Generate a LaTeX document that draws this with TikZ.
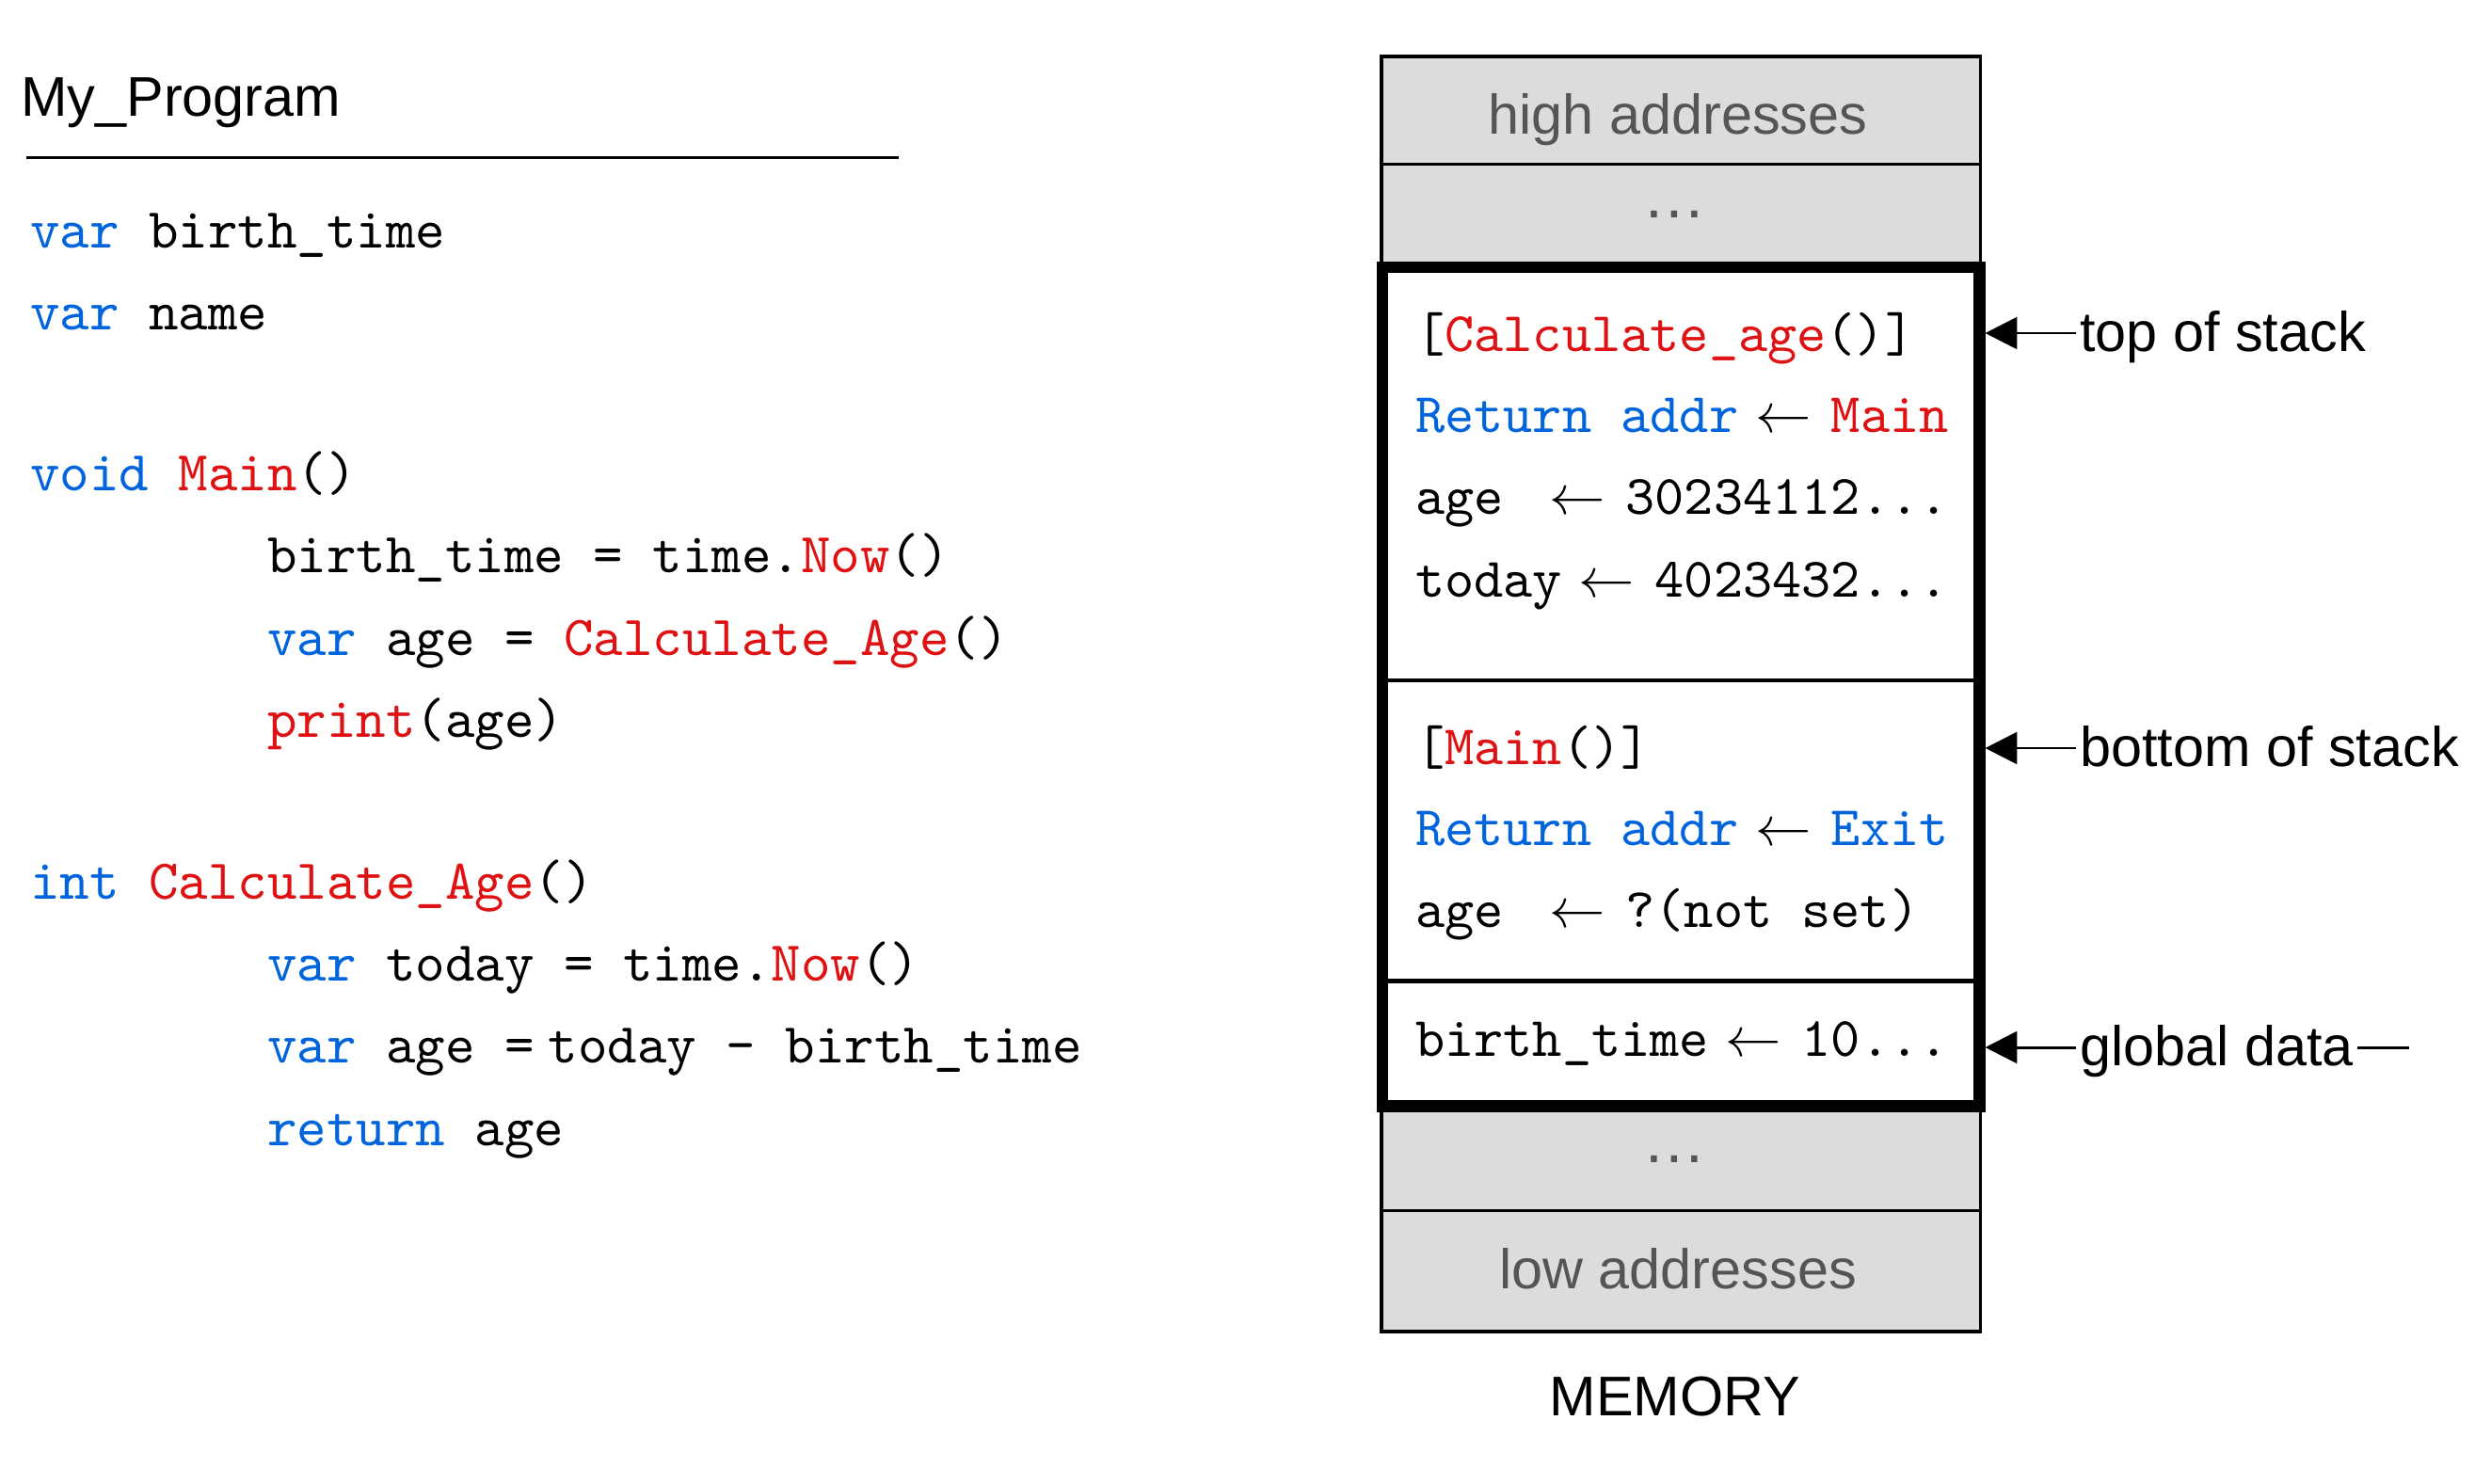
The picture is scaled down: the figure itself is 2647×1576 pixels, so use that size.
\documentclass[tikz,border=0pt]{standalone}
\usepackage{fontspec}
\newfontfamily\labelfont{Liberation Sans}
\usepackage{xcolor}
\definecolor{kwblue}{RGB}{0,100,220}
\definecolor{fnred}{RGB}{222,18,18}
\definecolor{gr}{RGB}{220,220,220}
\definecolor{grtext}{RGB}{85,85,85}
\newcommand{\kwd}[1]{\textcolor{kwblue}{#1}}
\newcommand{\fnc}[1]{\textcolor{fnred}{#1}}
\newcommand{\assign}{\hspace{0.3em}$\leftarrow$\hspace{0.36em}}
\usetikzlibrary{arrows.meta}
\tikzset{
  code/.style={anchor=base west, inner sep=0pt, font=\ttfamily},
  sans/.style={inner sep=0pt, font=\labelfont},
  lbl/.style={anchor=west, inner sep=0.5pt, font=\labelfont, text height=6.7pt, text depth=0pt},
  ptr/.style={-{Triangle[length=5.7pt,width=5.7pt]}, line width=0.5pt, shorten >=1pt}
}

\begin{document}
\begin{tikzpicture}[x=0.16835pt, y=-0.16835pt]
\useasboundingbox (0,0) rectangle (2647,1576);
% program text
\node[sans, anchor=base west] (title) at (21,123) {My\_Program};
\draw[line width=0.6pt] (28,167.5) -- (955,167.5);
\foreach \x/\y/\code [count=\i] in {
  31/263/{\kwd{var} birth\_time},
  31/350/{\kwd{var} name},
  31/521/{\kwd{void} \fnc{Main}()},
  283/608/{birth\_time = time.\fnc{Now}()},
  283/696/{\kwd{var} age = \fnc{Calculate\_Age}()},
  283/783/{\fnc{print}(age)},
  31/955/{\kwd{int} \fnc{Calculate\_Age}()},
  283/1042/{\kwd{var} today = time.\fnc{Now}()},
  283/1129/{\kwd{var} age =\hspace{0.25em}today - birth\_time},
  283/1217/{\kwd{return} age}}{
\node[code, font=\ttfamily\fontsize{10.1}{12}\selectfont] (line\i) at (\x,\y) {\code};
}
% memory column
\fill[gr] (1468,60) rectangle (2104.5,1415);
\draw[line width=0.6pt] (1468,60) rectangle (2104.5,1415);
\foreach \y in {174.5,1286.5} \draw[line width=0.6pt] (1468,\y) -- (2104.5,\y);
\fill[white] (1469,284) rectangle (2103.6,1175.7);
\foreach \y in {723,1042.5} \draw[line width=0.7pt] (1469,\y) -- (2103.6,\y);
\draw[line width=2.1pt] (1469,284) rectangle (2103.6,1175.7);
\coordinate (stackedge) at (2103.6,284);
\node[sans, anchor=base, text=grtext] (high) at (1783,142.7) {high addresses};
\node[inner sep=0pt, text=grtext, font=\labelfont\fontsize{11.4}{12}\selectfont] (hdots) at (1779,228) {\textellipsis};
\node[inner sep=0pt, text=grtext, font=\labelfont\fontsize{11.4}{12}\selectfont] (ldots) at (1779,1231.4) {\textellipsis};
\node[sans, anchor=base, text=grtext] (low) at (1783,1369.5) {low addresses};
\node[sans, anchor=base] (memlabel) at (1780,1504) {MEMORY};
\foreach \y/\txt [count=\i] in {
  373/{[\fnc{Calculate\_age}()]},
  459/{\kwd{Return addr}\assign\fnc{Main}},
  546/{age~\assign 30234112...},
  634/{today\assign 4023432...},
  812/{[\fnc{Main}()]},
  898/{\kwd{Return addr}\assign\kwd{Exit}},
  985.6/{age~\assign ?(not set)},
  1122/{birth\_time\assign 10...}}{
\node[code] (slot\i) at (1503,\y) {\txt};
}
% pointers
\node[lbl] (toplbl) at (2206,354) {top of stack};
\node[lbl] (botlbl) at (2206,795) {bottom of stack};
\node[lbl] (globlbl) at (2206,1113) {global data};
\coordinate (globend) at (2560,1113);
\foreach \n in {toplbl,botlbl,globlbl} \draw[ptr] (\n.west) -- (\n.west -| stackedge);
\draw[line width=0.5pt] (globlbl.east) -- (globend);
\end{tikzpicture}
\end{document}
